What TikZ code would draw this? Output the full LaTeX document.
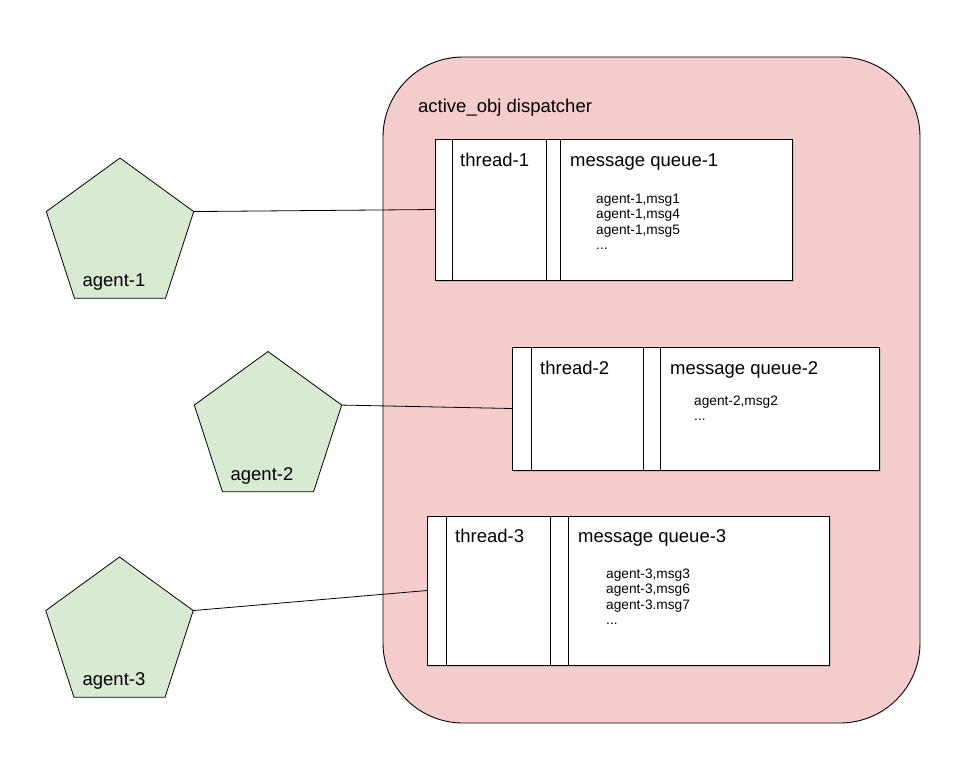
\documentclass[tikz,border=0pt]{standalone}
\usepackage{fontspec}
\setmainfont{Liberation Sans}
\usetikzlibrary{shapes.geometric, shadows, positioning}

\definecolor{dispink}{HTML}{F4CCCC}
\definecolor{agentgreen}{HTML}{D9EAD3}

\tikzset{
  agent/.style={regular polygon, regular polygon sides=5, minimum size=155pt, inner sep=0pt, outer sep=0pt, draw, line width=0.8pt, fill=agentgreen},
  queuebox/.style={draw, fill=white, line width=0.9pt, inner sep=0pt, outer sep=0pt, anchor=north west, drop shadow={shadow xshift=1.5pt, shadow yshift=-2pt, opacity=0.3}},
  bigtext/.style={anchor=base west, inner sep=0pt, font=\fontsize{18.5}{22}\selectfont},
  msgtext/.style={anchor=base west, inner sep=0pt, font=\fontsize{13.7}{16}\selectfont},
  link/.style={line width=0.8pt}
}

\begin{document}
\begin{tikzpicture}[x=1pt, y=-1pt]
\useasboundingbox (0,0) rectangle (971,769);

% dispatcher
\draw[fill=dispink, line width=0.9pt, rounded corners=80pt] (383,57) rectangle (920,723);
\node[bigtext] (disp) at (418,112) {active\_obj dispatcher};

% queue 1
\node[queuebox, minimum width=357pt, minimum height=141pt] (q1) at (435,139) {};
\draw[line width=0.9pt] (452,139) -- (452,280);
\draw[line width=0.9pt] (546,139) -- (546,280);
\draw[line width=0.9pt] (560,139) -- (560,280);
\node[bigtext] (t1) at (460,166) {thread-1};
\node[bigtext] (mq1) at (570,166) {message queue-1};
\node[msgtext] (m1-1) at (596,203) {agent-1,msg1};
\node[msgtext] (m1-2) at (596,218.5) {agent-1,msg4};
\node[msgtext] (m1-3) at (596,234) {agent-1,msg5};
\node[msgtext] (m1-4) at (596,249.5) {...};

% queue 2
\node[queuebox, minimum width=367pt, minimum height=123pt] (q2) at (512,347) {};
\draw[line width=0.9pt] (531,347) -- (531,470);
\draw[line width=0.9pt] (643,347) -- (643,470);
\draw[line width=0.9pt] (660,347) -- (660,470);
\node[bigtext] (t2) at (540,374) {thread-2};
\node[bigtext] (mq2) at (670,374) {message queue-2};
\node[msgtext] (m2-1) at (694,405) {agent-2,msg2};
\node[msgtext] (m2-2) at (694,420.5) {...};

% queue 3
\node[queuebox, minimum width=402pt, minimum height=149pt] (q3) at (427,516) {};
\draw[line width=0.9pt] (446,516) -- (446,665);
\draw[line width=0.9pt] (550,516) -- (550,665);
\draw[line width=0.9pt] (568,516) -- (568,665);
\node[bigtext] (t3) at (455,542) {thread-3};
\node[bigtext] (mq3) at (578,542) {message queue-3};
\node[msgtext] (m3-1) at (606,578) {agent-3,msg3};
\node[msgtext] (m3-2) at (606,593.5) {agent-3,msg6};
\node[msgtext] (m3-3) at (606,609) {agent-3.msg7};
\node[msgtext] (m3-4) at (606,624.5) {...};

% agents
\node[agent] (agent1) at (120,235.5) {};
\node[bigtext, anchor=base] (a1lab) at (114,286.5) {agent-1};
\node[agent] (agent2) at (268,429) {};
\node[bigtext, anchor=base] (a2lab) at (262,480) {agent-2};
\node[agent] (agent3) at (119.5,634.5) {};
\node[bigtext, anchor=base] (a3lab) at (114,685.5) {agent-3};

% links
\draw[link] (agent1.18) -- (q1.west);
\draw[link] (agent2.18) -- (q2.west);
\draw[link] (agent3.18) -- (q3.west);
\end{tikzpicture}
\end{document}
